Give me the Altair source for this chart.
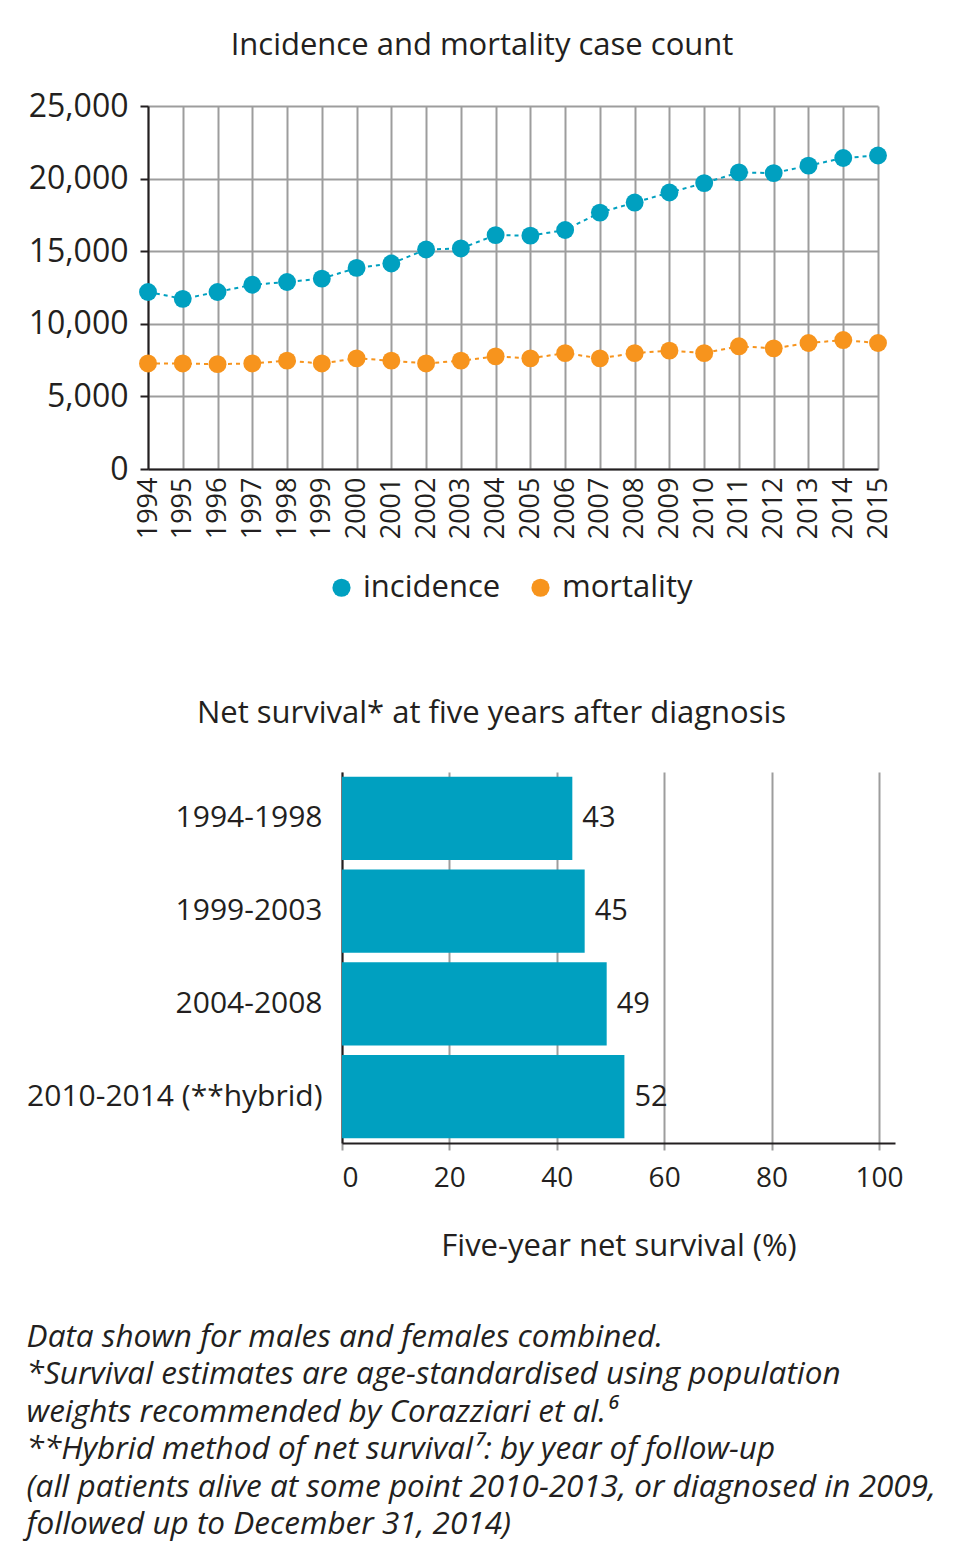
import altair as alt
import pandas as pd

FONT = "Open Sans"
INK = "#231f20"
GRID = "#9d9d9d"
TEAL = "#00a0c0"
ORANGE = "#f7941d"

years = list(range(1994, 2016))
incidence = [12190, 11720, 12190, 12690, 12880, 13110, 13850, 14150, 15120, 15190, 16110,
             16070, 16460, 17660, 18350, 19040, 19690, 20430, 20380, 20890, 21420, 21590]
mortality = [7270, 7270, 7220, 7270, 7460, 7270, 7620, 7460, 7270, 7460, 7760,
             7620, 7980, 7620, 7980, 8150, 7980, 8450, 8310, 8680, 8880, 8680]
series_names = ["incidence", "mortality"]
y_ticks = [0, 5000, 10000, 15000, 20000, 25000]

periods = ["1994-1998", "1999-2003", "2004-2008", "2010-2014 (**hybrid)"]
survival = [42.9, 45.2, 49.3, 52.6]
survival_labels = ["43", "45", "49", "52"]
x_ticks = [0, 20, 40, 60, 80, 100]

footnote = [
    "Data shown for males and females combined.",
    "*Survival estimates are age-standardised using population",
    "weights recommended by Corazziari et al.\u2076",
    "**Hybrid method of net survival\u2077: by year of follow-up",
    "(all patients alive at some point 2010-2013, or diagnosed in 2009,",
    "followed up to December 31, 2014)",
]

df_top = pd.DataFrame({
    "year": years * 2,
    "count": incidence + mortality,
    "series": [series_names[0]] * len(years) + [series_names[1]] * len(years),
})

df_bot = pd.DataFrame({"period": periods, "survival": survival, "label": survival_labels})

# ---- top: line chart ----
x_top = alt.X(
    "year:O",
    scale=alt.Scale(padding=0),
    axis=alt.Axis(
        title=None, labelAngle=270, labelFontSize=27, labelFont=FONT, labelColor=INK,
        ticks=False, labelPadding=8, domainColor=INK, domainWidth=2,
        grid=True, gridColor=GRID, gridWidth=2,
    ),
)
y_top = alt.Y(
    "count:Q",
    scale=alt.Scale(domain=[0, 25000], nice=False),
    axis=alt.Axis(
        title=None, values=y_ticks, format=",.0f", labelFontSize=32, labelFont=FONT,
        labelColor=INK, tickSize=8, tickColor=INK, tickWidth=2, labelPadding=12,
        domainColor=INK, domainWidth=2, grid=True, gridColor=GRID, gridWidth=2,
    ),
)
color_scale = alt.Scale(domain=series_names, range=[TEAL, ORANGE])

lines = alt.Chart(df_top).mark_line(strokeDash=[4, 4], strokeWidth=2).encode(
    x=x_top, y=y_top,
    color=alt.Color("series:N", scale=color_scale, legend=None),
)
points = alt.Chart(df_top).mark_circle(size=320, opacity=1).encode(
    x=x_top, y=y_top,
    color=alt.Color(
        "series:N", scale=color_scale,
        legend=alt.Legend(
            orient="none", legendX=178, legendY=466, direction="horizontal", title=None,
            labelFontSize=31, labelFont=FONT, labelColor=INK,
            symbolType="circle", symbolSize=330, columnPadding=24,
            labelOffset=6,
        ),
    ),
)
top = alt.layer(lines, points).resolve_scale(color="independent").properties(
    width=730, height=363,
    title=alt.TitleParams(
        "Incidence and mortality case count", fontSize=31, font=FONT,
        fontWeight="normal", color=INK, offset=28, dx=-31,
    ),
)

# ---- bottom: bar chart (plot shifted right of the top chart's plot) ----
SHIFT = 194
BOT_W = 553
x_bot = alt.X(
    "survival:Q",
    scale=alt.Scale(domain=[0, 103], nice=False, range=[SHIFT, SHIFT + BOT_W]),
    axis=alt.Axis(
        title="Five-year net survival (%)", titleFontSize=31, titleFont=FONT,
        titleFontWeight="normal", titleColor=INK, titlePadding=39,
        values=x_ticks, labelFontSize=28, labelFont=FONT, labelColor=INK,
        labelPadding=14, tickSize=7, tickColor=GRID, tickWidth=2,
        domainColor=INK, domainWidth=2, grid=True, gridColor=GRID, gridWidth=2,
    ),
)
y_bot = alt.Y(
    "period:N", sort=periods,
    scale=alt.Scale(paddingInner=0.1, paddingOuter=0.05),
    axis=alt.Axis(
        title=None, ticks=False, labelFontSize=30, labelFont=FONT, labelColor=INK,
        labelPadding=20, labelLimit=500, domainColor=INK, domainWidth=2, grid=False,
        offset=-SHIFT,
    ),
)
bars = alt.Chart(df_bot).mark_bar(color=TEAL).encode(x=x_bot, y=y_bot)
labels = alt.Chart(df_bot).mark_text(
    align="left", baseline="middle", dx=10, fontSize=29, font=FONT, color=INK
).encode(x=x_bot, y=y_bot, text="label:N")
bottom = alt.layer(bars, labels).properties(
    width=SHIFT + BOT_W, height=371,
    title=alt.TitleParams(
        "Net survival* at five years after diagnosis", fontSize=31, font=FONT,
        fontWeight="normal", color=INK, offset=42, dx=-30,
    ),
)

chart = alt.vconcat(top, bottom, spacing=95).resolve_scale(
    color="independent"
).properties(
    padding={"top": 22, "left": 18, "right": 10, "bottom": 10},
    title=alt.TitleParams(
        footnote, orient="bottom", anchor="start", fontSize=31.5, font=FONT,
        fontStyle="italic", fontWeight="normal", color=INK, lineHeight=37.4, offset=61,
    ),
).configure_view(stroke=None)

chart.save("out.html", embed_options={"renderer": "svg", "actions": False})
